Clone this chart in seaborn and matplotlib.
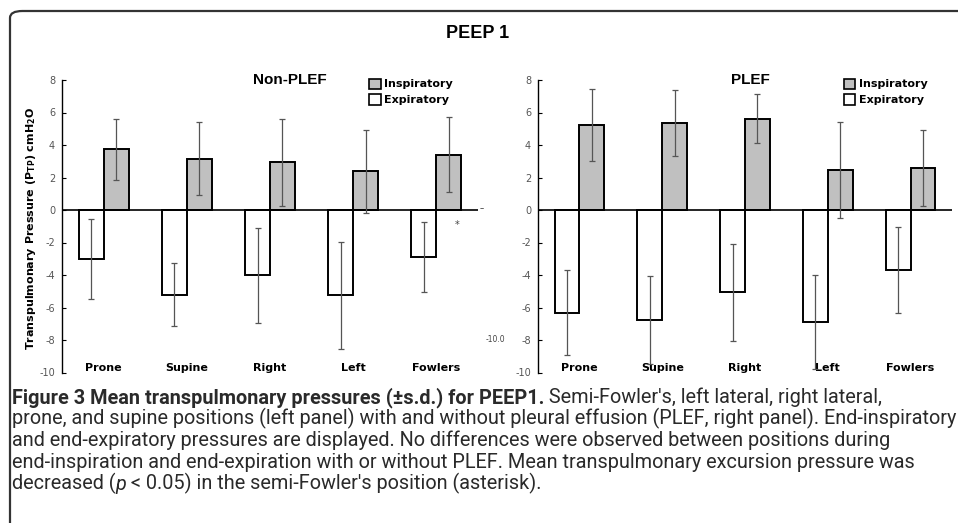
"""Mean transpulmonary pressures for PEEP1, Non-PLEF vs PLEF."""
import matplotlib.pyplot as plt
from matplotlib.patches import FancyBboxPatch, Patch
from matplotlib.transforms import IdentityTransform
import pandas as pd
import seaborn as sns

positions = ["Prone", "Supine", "Right", "Left", "Fowlers"]
phases = ["Expiratory", "Inspiratory"]

# Non-PLEF (left panel)
nonplef_insp = [3.73, 3.16, 2.93, 2.38, 3.40]
nonplef_insp_sd = [1.87, 2.25, 2.70, 2.55, 2.30]
nonplef_exp = [-3.03, -5.20, -4.02, -5.24, -2.89]
nonplef_exp_sd = [2.47, 1.95, 2.94, 3.30, 2.17]

# PLEF (right panel)
plef_insp = [5.23, 5.37, 5.62, 2.48, 2.60]
plef_insp_sd = [2.22, 2.02, 1.52, 2.96, 2.33]
plef_exp = [-6.31, -6.76, -5.07, -6.89, -3.67]
plef_exp_sd = [2.64, 2.70, 2.98, 2.90, 2.65]

yticks = [8, 6, 4, 2, 0, -2, -4, -6, -8, -10]

sns.set_style("white")
plt.rcParams["axes.unicode_minus"] = False
plt.rcParams["font.family"] = ["DejaVu Sans"]
plt.rcParams["text.color"] = "black"

W, H = 958, 523
fig = plt.figure(figsize=(W / 100, H / 100), dpi=100)


def px_axes(x0, y0, x1, y1):
    """Axes from pixel box (top-left origin)."""
    return fig.add_axes([x0 / W, 1 - y1 / H, (x1 - x0) / W, (y1 - y0) / H])


def panel(ax, insp, insp_sd, exp, exp_sd, title, title_x):
    df = pd.DataFrame({
        "position": positions * 2,
        "phase": ["Expiratory"] * 5 + ["Inspiratory"] * 5,
        "value": exp + insp,
    })
    sns.barplot(data=df, x="position", y="value", hue="phase", hue_order=phases,
                order=positions, palette={"Expiratory": "white", "Inspiratory": "#c0c0c0"},
                width=0.6, edgecolor="black", linewidth=1.4, errorbar=None,
                legend=False, saturation=1, ax=ax)
    for cont, sds in zip(ax.containers, [exp_sd, insp_sd]):
        for bar, sd in zip(cont, sds):
            xc = bar.get_x() + bar.get_width() / 2
            ax.errorbar(xc, bar.get_height(), yerr=sd, color="#555555", lw=0.9,
                        capsize=2, capthick=0.9, zorder=5)
    ax.axhline(0, color="black", lw=1.2, zorder=4)
    ax.set_xlim(-0.5, 4.5)
    ax.set_ylim(-10, 8)
    ax.set_yticks(yticks)
    ax.set_yticklabels([str(t) for t in yticks], color="#555555", fontsize=7)
    ax.tick_params(axis="y", direction="in", length=3, width=0.8, color="black", pad=5, left=True)
    ax.tick_params(axis="x", length=0, pad=-7)
    for lbl in ax.get_xticklabels():
        lbl.set_fontweight("bold")
        lbl.set_fontsize(8)
        lbl.set_color("black")
    ax.set_xlabel("")
    ax.set_ylabel("")
    sns.despine(ax=ax, bottom=True)
    ax.spines["left"].set_color("black")
    ax.spines["left"].set_linewidth(1.0)
    ax.text(title_x, 1.0, title, transform=ax.transAxes, ha="center", va="center",
            fontsize=11, fontweight="bold", family="Liberation Sans")
    handles = [Patch(facecolor="#c0c0c0", edgecolor="black", lw=1.2, label="Inspiratory"),
               Patch(facecolor="white", edgecolor="black", lw=1.2, label="Expiratory")]
    ax.legend(handles=handles, loc="upper left", bbox_to_anchor=(0.738, 1.005), frameon=False,
              prop={"weight": "bold", "size": 8}, handlelength=1.05, handleheight=1.05,
              handletextpad=0.3, labelspacing=0.45, borderaxespad=0, borderpad=0)


ax1 = px_axes(62, 80, 478, 372.5)
ax2 = px_axes(538, 80, 952, 372.5)
panel(ax1, nonplef_insp, nonplef_insp_sd, nonplef_exp, nonplef_exp_sd, "Non-PLEF", 0.548)
panel(ax2, plef_insp, plef_insp_sd, plef_exp, plef_exp_sd, "PLEF", 0.514)

# asterisk under Fowlers inspiratory bar (Non-PLEF)
fowl_bar = ax1.containers[1][4]
ax1.text(fowl_bar.get_x() + fowl_bar.get_width() / 2 + 0.1, -0.95, "*", ha="center", va="center",
         fontsize=7, color="#444444")

fig.text(31 / W, 1 - 228 / H, r"Transpulmonary Pressure (P$_{\mathbf{TP}}$) cmH$_{\mathbf{2}}$O",
         rotation=90, ha="center", va="center", fontsize=8, fontweight="bold")
fig.text(478 / W, 1 - 34 / H, "PEEP 1", ha="center", va="center", fontsize=13,
         fontweight="bold", family="Liberation Sans")
fig.text(495 / W, 1 - 340 / H, "-10.0", ha="center", va="center", fontsize=5.5, color="#444444")
fig.text(482 / W, 1 - 209 / H, "\u2013", ha="center", va="center", fontsize=6, color="#333333")

# rounded frame
frame = FancyBboxPatch((10 / W, -0.1), 1.2, 1 - 11 / H + 0.1,
                       boxstyle="round,pad=0,rounding_size=0.013", transform=fig.transFigure,
                       facecolor="none", edgecolor="#333333", lw=1.6, clip_on=False)
fig.add_artist(frame)

# caption, drawn segment by segment
cap_font = ["Roboto", "DejaVu Sans"]
caption_lines = [
    [("Figure 3 Mean transpulmonary pressures (\u00b1s.d.) for PEEP1.", "bold", "normal"),
     (" Semi-Fowler's, left lateral, right lateral,", "normal", "normal")],
    [("prone, and supine positions (left panel) with and without pleural effusion "
      "(PLEF, right panel). End-inspiratory", "normal", "normal")],
    [("and end-expiratory pressures are displayed. No differences were observed "
      "between positions during", "normal", "normal")],
    [("end-inspiration and end-expiration with or without PLEF. Mean transpulmonary "
      "excursion pressure was", "normal", "normal")],
    [("decreased (", "normal", "normal"), ("p", "normal", "italic"),
     (" < 0.05) in the semi-Fowler's position (asterisk).", "normal", "normal")],
]
renderer = fig.canvas.get_renderer()

# fit the font size so the widest line spans the same width as in the figure
probe = fig.text(0, 0, caption_lines[1][0][0], fontsize=12, family=cap_font)
cap_size = 12 * 940 / probe.get_window_extent(renderer).width
probe.remove()

for i, segs in enumerate(caption_lines):
    x = 12
    y = H - (403 + i * 21.7)
    for text, weight, style in segs:
        t = fig.text(x, y, text, transform=IdentityTransform(), fontsize=cap_size,
                     fontweight=weight, fontstyle=style, family=cap_font, va="baseline",
                     color="#2a2a2a")
        x = t.get_window_extent(renderer).x1

fig.savefig("out.png", dpi=100)
